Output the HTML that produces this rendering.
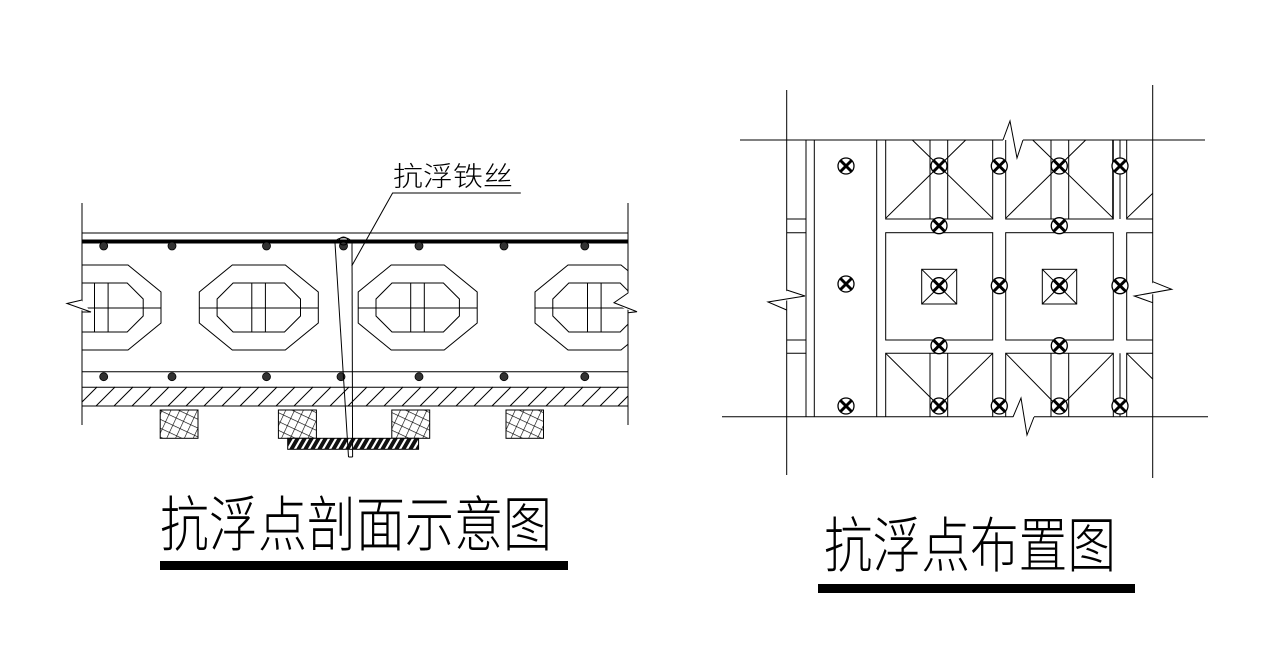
<!DOCTYPE html>
<html><head><meta charset="utf-8"><style>
html,body{margin:0;padding:0;background:#fff;}
svg{display:block;}
text{font-family:"Liberation Sans","Noto Sans CJK SC",sans-serif;}
</style></head><body>
<svg width="1281" height="655" viewBox="0 0 1281 655" xmlns="http://www.w3.org/2000/svg">
<defs>
<clipPath id="lc"><rect x="82" y="200" width="546" height="260"/></clipPath>
<pattern id="xh" width="8" height="8" patternUnits="userSpaceOnUse" patternTransform="rotate(25)">
<path d="M0 0V8M0 0H8" stroke="#000" stroke-width="1.2" fill="none"/>
</pattern>
<pattern id="ph" width="7" height="11" patternUnits="userSpaceOnUse" patternTransform="skewX(-30)">
<rect width="7" height="11" fill="#111"/><rect x="0" width="2.5" height="11" fill="#fff"/>
</pattern>
<g id="oct" fill="none" stroke="#000" stroke-width="1">
<polygon points="-26.5,265 26.5,265 59.5,292 59.5,323 26.5,350 -26.5,350 -59.5,323 -59.5,292"/>
<polygon points="-25.7,283 25.7,283 41.7,299 41.7,316 25.7,332 -25.7,332 -41.7,316 -41.7,299"/>
<line x1="-59.5" y1="308" x2="59.5" y2="308"/>
<line x1="-7" y1="283" x2="-7" y2="332"/>
<line x1="6.6" y1="283" x2="6.6" y2="332"/>
</g>
<g id="cx" fill="#fff" stroke="#000">
<circle r="8" stroke-width="1.3"/>
<path d="M-5.5 -5.5L5.5 5.5M5.5 -5.5L-5.5 5.5" stroke-width="3"/>
</g>
</defs>

<g stroke="#000" fill="none" stroke-width="1">
<line x1="82" y1="203" x2="82" y2="425"/>
<line x1="628" y1="203" x2="628" y2="425"/>
<line x1="82" y1="233" x2="628" y2="233"/>
<line x1="82" y1="371.7" x2="628" y2="371.7"/>
<line x1="82" y1="387.3" x2="628" y2="387.3"/>
<line x1="82" y1="406" x2="628" y2="406"/>
</g>
<rect x="82" y="239.5" width="546" height="4" fill="#000"/>
<g clip-path="url(#lc)">
<use href="#oct" x="101.5"/><use href="#oct" x="258.8"/><use href="#oct" x="417.7"/><use href="#oct" x="594.5"/>
<g stroke="#000" stroke-width="1">
<path d="M78 406L97 387M96 406L115 387M114 406L133 387M132 406L151 387M150 406L169 387M168 406L187 387M186 406L205 387M204 406L223 387M222 406L241 387M240 406L259 387M258 406L277 387M276 406L295 387M294 406L313 387M312 406L331 387M330 406L349 387M348 406L367 387M366 406L385 387M384 406L403 387M402 406L421 387M420 406L439 387M438 406L457 387M456 406L475 387M474 406L493 387M492 406L511 387M510 406L529 387M528 406L547 387M546 406L565 387M564 406L583 387M582 406L601 387M600 406L619 387M618 406L637 387"/>
</g>
</g>
<g fill="#fff" stroke="#fff" stroke-width="3">
<polyline points="82,301 67,303.5 91,312"/>
<polyline points="628,293 614,302.7 637,311.7"/>
</g>
<g fill="none" stroke="#000" stroke-width="1">
<polyline points="82,300 67,303.5 91,312 82,312"/>
<polyline points="628,293 614,302.7 637,311.7 628,312.7"/>
</g>
<g fill="#333" stroke="#000" stroke-width="0.8">
<circle cx="103.7" cy="246" r="4"/><circle cx="172" cy="246" r="4"/><circle cx="266.5" cy="246" r="4"/><circle cx="343.5" cy="246" r="4"/><circle cx="419" cy="246" r="4"/><circle cx="504" cy="246" r="4"/><circle cx="584.8" cy="246" r="4"/>
<circle cx="103.7" cy="376.7" r="4"/><circle cx="172" cy="376.7" r="4"/><circle cx="266.5" cy="376.7" r="4"/><circle cx="341" cy="376.7" r="4"/><circle cx="419" cy="376.7" r="4"/><circle cx="504" cy="376.7" r="4"/><circle cx="584.8" cy="376.7" r="4"/>
</g>
<g stroke="#000" stroke-width="1">
<rect x="160.2" y="410" width="37.8" height="28.3" fill="url(#xh)"/>
<rect x="278.4" y="410" width="38" height="28.3" fill="url(#xh)"/>
<rect x="391.8" y="410" width="37.9" height="28.3" fill="url(#xh)"/>
<rect x="506" y="410" width="37.5" height="28.3" fill="url(#xh)"/>
<rect x="287.7" y="438.3" width="130.9" height="11" fill="url(#ph)"/>
</g>
<g fill="none" stroke="#000" stroke-width="1">
<path d="M335 243 A8.5 6 0 0 1 352 244.5"/>
<ellipse cx="343.5" cy="241" rx="4.5" ry="4"/>
<line x1="335" y1="243" x2="348.5" y2="457"/>
<line x1="352" y1="244.5" x2="352.6" y2="457"/>
<line x1="348.5" y1="457" x2="352.6" y2="457"/>
<polyline points="351.7,266 392.6,193 520.8,193"/>
</g>
<text x="393" y="186" font-size="27" textLength="120" lengthAdjust="spacingAndGlyphs" fill="#000" font-weight="200">抗浮铁丝</text>

<text x="160" y="546" font-size="60" textLength="392" lengthAdjust="spacingAndGlyphs" fill="#000" font-weight="200">抗浮点剖面示意图</text>
<rect x="160" y="561" width="408" height="9" fill="#000"/>

<g stroke="#000" stroke-width="1" fill="none">
<line x1="786.7" y1="90" x2="786.7" y2="475"/>
<line x1="1152.7" y1="85" x2="1152.7" y2="478"/>
<line x1="740" y1="140" x2="1003" y2="140"/><line x1="1023" y1="140" x2="1205" y2="140"/>
<line x1="722" y1="416.7" x2="1013" y2="416.7"/><line x1="1034" y1="416.7" x2="1208" y2="416.7"/>
<polyline points="1003,140 1010,121 1017,158 1023,140"/>
<polyline points="1013,417 1021,398 1027,435 1034,417"/>
<line x1="806" y1="140" x2="806" y2="416.7"/>
<line x1="814.3" y1="140" x2="814.3" y2="416.7"/>
<line x1="876.7" y1="140" x2="876.7" y2="416.7"/>
<path d="M786.7 219H806M786.7 232.7H806M786.7 340H806M786.7 353.3H806"/>
<path d="M885.7 140V219H992.7V140"/>
<path d="M1005.7 140V219H1113.3V140"/>
<path d="M1126.7 140V219H1152.7"/>
<rect x="885.7" y="232.7" width="107" height="107.3"/>
<rect x="1005.7" y="232.7" width="107.6" height="107.3"/>
<path d="M1152.7 232.7H1126.7V340H1152.7"/>
<path d="M885.7 416.7V353.3H992.7V416.7"/>
<path d="M1005.7 416.7V353.3H1113.3V416.7"/>
<path d="M1152.7 353.3H1126.7V416.7"/>
<path d="M930 140V219M947.7 140V219M1051 140V219M1068.7 140V219M1112.7 140V219M1120 140V219"/>
<path d="M930 353.3V416.7M947.7 353.3V416.7M1051 353.3V416.7M1068.7 353.3V416.7M1120 353.3V416.7"/>
<path d="M885.7 218.3L965.7 140M912.3 140L992.7 218.3M1005.7 218.3L1085.7 140M1032.7 140L1113.3 218.3M1126.7 218.3L1152.7 193.3"/>
<path d="M885.7 353.3L939 406M992.7 353.3L939 406M1005.7 353.3L1059.3 408M1113.3 353.3L1059.3 408M1126.7 353.3L1152.7 379"/>
<rect x="921.7" y="269.3" width="35" height="34.7"/>
<rect x="1042.3" y="269.3" width="34.4" height="34.7"/>
<path d="M921.7 269.3L956.7 304M956.7 269.3L921.7 304M1042.3 269.3L1076.7 304M1076.7 269.3L1042.3 304"/>
</g>
<g fill="#fff" stroke="#fff" stroke-width="3">
<polyline points="786.7,291 805,296 768,302"/>
<polyline points="1152.7,283 1171.7,289.3 1134.3,296"/>
</g>
<g fill="none" stroke="#000" stroke-width="1">
<polyline points="786.7,290 805,296 768,302 786.7,310"/>
<polyline points="1152.7,281.7 1171.7,289.3 1134.3,296 1152.7,302.7"/>
</g>
<use href="#cx" x="846" y="166"/><use href="#cx" x="846" y="284"/><use href="#cx" x="846" y="406"/>
<use href="#cx" x="939" y="166"/><use href="#cx" x="999.3" y="166"/><use href="#cx" x="1059.3" y="166"/><use href="#cx" x="1120" y="166"/>
<use href="#cx" x="939" y="225.7"/><use href="#cx" x="1059.3" y="225.7"/>
<use href="#cx" x="939" y="285.7"/><use href="#cx" x="999.3" y="285.7"/><use href="#cx" x="1059.3" y="285.7"/><use href="#cx" x="1120" y="285.7"/>
<use href="#cx" x="939" y="345.7"/><use href="#cx" x="1059.3" y="345.7"/>
<use href="#cx" x="939" y="406"/><use href="#cx" x="999.3" y="406"/><use href="#cx" x="1059.3" y="406"/><use href="#cx" x="1120" y="406"/>

<text x="824" y="567" font-size="60" textLength="292" lengthAdjust="spacingAndGlyphs" fill="#000" font-weight="200">抗浮点布置图</text>
<rect x="818" y="584" width="317" height="9" fill="#000"/>
</svg>
</body></html>
